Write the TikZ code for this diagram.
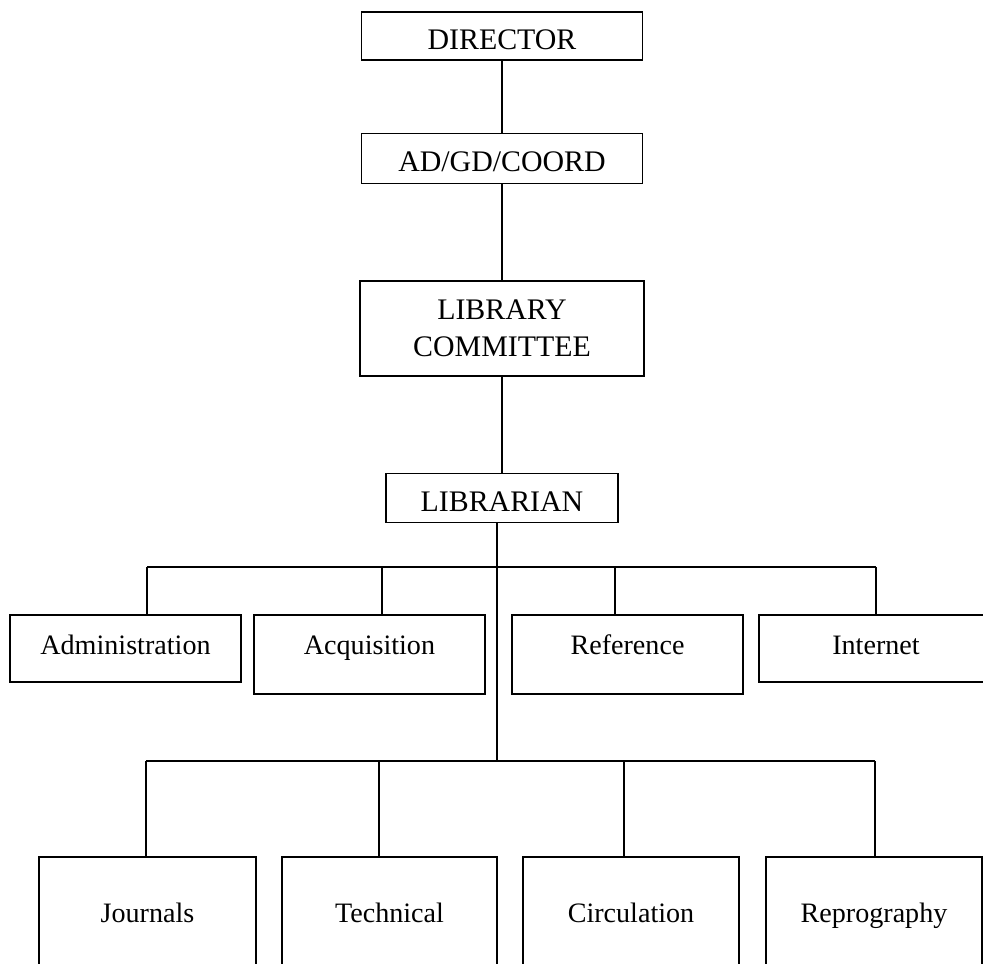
\documentclass[tikz,border=0pt]{standalone}
\usepackage{fontspec}
\setmainfont{Liberation Serif}
\usetikzlibrary{positioning, calc}

\tikzset{
    unit/.style={draw, line width=0.9pt, inner sep=2pt, font=\fontsize{16}{19}\selectfont, text height=11.5pt, text depth=4.1pt},
    deep/.style={text depth=11pt},
    chief/.style={draw, line width=0.9pt, inner sep=2pt, font=\fontsize{17}{21}\selectfont, text height=15pt, text depth=0pt},
    board/.style={draw, line width=0.9pt, inner sep=2pt, align=center, font=\fontsize{17}{21}\selectfont},
    link/.style={line width=0.9pt}
}

\begin{document}
\begin{tikzpicture}[x=0.02cm, y=0.02cm]
                \path[use as bounding box, clip] (0,0) rectangle (983,963);

                % --- Kierownictwo ---
                \node[chief, minimum width=5.62cm, minimum height=0.96cm] (director) at (502,927) {DIRECTOR};
                \node[chief, minimum width=5.62cm, minimum height=1cm, below=1.44cm of director] (coord) {AD/GD/COORD};
                \node[board, minimum width=5.68cm, minimum height=1.9cm, below=1.92cm of coord] (committee) {LIBRARY\\COMMITTEE};
                \node[chief, minimum width=4.64cm, minimum height=0.98cm, below=1.92cm of committee] (librarian) {LIBRARIAN};

                \draw[link] (director.south) -- (coord.north);
                \draw[link] (coord.south) -- (committee.north);
                \draw[link] (committee.south) -- (librarian.north);

                % --- Pierwszy rzad sekcji ---
                \node[unit, minimum width=4.62cm, minimum height=1.34cm] (admin) at (125.5,314.5) {Administration};
                \node[unit, deep, minimum width=4.62cm, minimum height=1.58cm] (acquisition) at (369.5,308.5) {Acquisition};
                \node[unit, deep, minimum width=4.62cm, minimum height=1.58cm] (reference) at (627.5,308.5) {Reference};
                \node[unit, minimum width=4.68cm, minimum height=1.34cm] (internet) at (876,314.5) {Internet};

                % --- Drugi rzad sekcji ---
                \node[unit, minimum width=4.34cm, minimum height=2.36cm] (journals) at (147.5,47) {Journals};
                \node[unit, minimum width=4.30cm, minimum height=2.36cm] (technical) at (389.5,47) {Technical};
                \node[unit, minimum width=4.32cm, minimum height=2.36cm] (circulation) at (631,47) {Circulation};
                \node[unit, minimum width=4.32cm, minimum height=2.36cm] (reprography) at (874,47) {Reprography};

                % Pien od bibliotekarza
                \coordinate (split) at (497,202);
                \draw[link] (librarian.south -| split) -- (split);

                % Szyna gorna
                \coordinate (upperleft) at (147,396);
                \coordinate (upperright) at (876,396);
                \coordinate (acqdrop) at (382,396);
                \coordinate (refdrop) at (615,396);
                \draw[link] (upperleft) -- (upperright);
                \draw[link] (upperleft) -- (upperleft |- admin.north);
                \draw[link] (acqdrop) -- (acqdrop |- acquisition.north);
                \draw[link] (refdrop) -- (refdrop |- reference.north);
                \draw[link] (upperright) -- (upperright |- internet.north);

                % Szyna dolna
                \coordinate (lowerleft) at (146,202);
                \coordinate (lowerright) at (875,202);
                \coordinate (techdrop) at (379,202);
                \coordinate (circdrop) at (624,202);
                \draw[link] (lowerleft) -- (lowerright);
                \draw[link] (lowerleft) -- (lowerleft |- journals.north);
                \draw[link] (techdrop) -- (techdrop |- technical.north);
                \draw[link] (circdrop) -- (circdrop |- circulation.north);
                \draw[link] (lowerright) -- (lowerright |- reprography.north);
            \end{tikzpicture}
\end{document}
